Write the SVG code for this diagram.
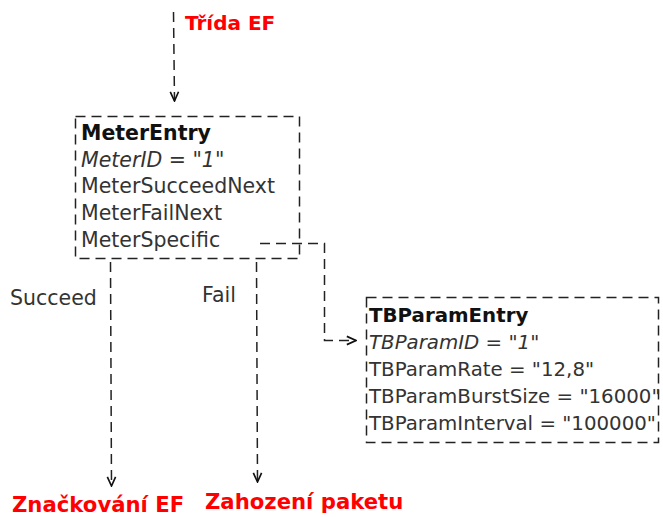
<svg xmlns="http://www.w3.org/2000/svg" width="663" height="517" viewBox="0 0 663 517">
<defs>
<style>
.box{fill:none;stroke:#222;stroke-width:1.5;stroke-dasharray:10 6}
.ln{fill:none;stroke:#222;stroke-width:1.5;stroke-dasharray:10 6}
.t{font-family:"DejaVu Sans",sans-serif;font-size:20.5px;fill:#333}
.s{font-size:19.8px}
.b{font-weight:bold;fill:#111}
.i{font-style:italic}
.red{font-family:"DejaVu Sans",sans-serif;font-size:20px;font-weight:bold;fill:#ff0000}
.big{font-size:21.2px}
</style>
<marker id="arr" viewBox="0 0 12 12" refX="11" refY="6" markerWidth="11" markerHeight="11" markerUnits="userSpaceOnUse" orient="auto">
<path d="M1,1.5 L11,6 L1,10.5" fill="none" stroke="#111" stroke-width="1.8"/>
</marker>
</defs>
<g id="meterEntry">
<rect class="box" x="75.5" y="116.5" width="224" height="142"/>
<text class="t b" x="81" y="140">MeterEntry</text>
<text class="t i" x="81" y="167">MeterID = "1"</text>
<text class="t" x="81" y="193">MeterSucceedNext</text>
<text class="t" x="81" y="220">MeterFailNext</text>
<text class="t" x="81" y="247">MeterSpecific</text>
</g>
<g id="tbParamEntry">
<rect class="box" x="366.5" y="297.5" width="292" height="145"/>
<text class="t s b" x="369" y="322">TBParamEntry</text>
<text class="t s i" x="369" y="349">TBParamID = "1"</text>
<text class="t s" x="369" y="376">TBParamRate = "12,8"</text>
<text class="t s" x="369" y="403">TBParamBurstSize = "16000"</text>
<text class="t s" x="369" y="430">TBParamInterval = "100000"</text>
</g>
<g id="connectors">
<path class="ln" d="M173.5,12 L174.5,101" marker-end="url(#arr)"/>
<path class="ln" d="M110.5,262 L111.5,486" marker-end="url(#arr)"/>
<path class="ln" d="M256.5,262 L257.5,482" marker-end="url(#arr)"/>
<path class="ln" d="M260,243.5 L324.5,243.5 L324.5,340.5 L356,340.5" marker-end="url(#arr)"/>
</g>
<g id="labels">
<text class="red" x="185" y="30">Třída EF</text>
<text class="t" x="10" y="305">Succeed</text>
<text class="t" x="202" y="302">Fail</text>
<text class="red big" x="12" y="512">Značkování EF</text>
<text class="red big" x="205" y="509">Zahození paketu</text>
</g>
</svg>
